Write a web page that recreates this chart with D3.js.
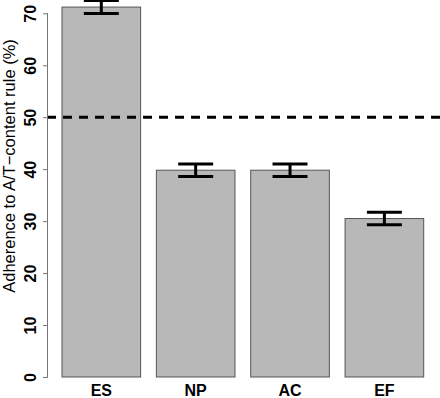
<!DOCTYPE html>
<html lang="en">
<head>
    <meta charset="UTF-8">
    <title>Adherence to A/T-content rule</title>
    <script src="https://d3js.org/d3.v7.min.js"></script>
    <style>
        body { margin: 0; background: white; }
        svg { display: block; font-family: "Liberation Sans", Arial, sans-serif; }
        .tick-label { font-size: 16px; font-weight: bold; fill: #000; }
        .cat-label { font-size: 16px; font-weight: bold; fill: #000; }
        .axis-title { font-size: 16.5px; fill: #000; }
    </style>
</head>
<body>
    <svg width="440" height="398"></svg>
    <script>
        const categories = ["ES", "NP", "AC", "EF"];
        const adherence = [71.2, 39.8, 39.8, 30.5];
        const errors = [1.25, 1.2, 1.2, 1.2];
        const yTicks = [0, 10, 20, 30, 40, 50, 60, 70];
        const threshold = 50;

        const width = 440, height = 398;
        const svg = d3.select("svg");

        const x = d3.scaleBand()
            .domain(categories)
            .range([62, 423.7])
            .paddingInner(0.2 / 1.2)
            .paddingOuter(0);

        const y = d3.scaleLinear()
            .domain([0, 70])
            .range([377, 13.3]);

        const data = categories.map((c, i) => ({ name: c, value: adherence[i], err: errors[i] }));

        // bars
        svg.selectAll(".bar")
            .data(data)
            .enter().append("rect")
            .attr("class", "bar")
            .attr("x", d => x(d.name))
            .attr("y", d => y(d.value))
            .attr("width", x.bandwidth())
            .attr("height", d => y(0) - y(d.value))
            .attr("fill", "#b8b8b8")
            .attr("stroke", "#555")
            .attr("stroke-width", 1);

        // error bars
        const capHalf = 17.5;
        const eb = svg.selectAll(".err")
            .data(data)
            .enter().append("g")
            .attr("class", "err")
            .attr("stroke", "#000")
            .attr("stroke-width", 3);
        eb.append("line")
            .attr("x1", d => x(d.name) + x.bandwidth() / 2)
            .attr("x2", d => x(d.name) + x.bandwidth() / 2)
            .attr("y1", d => y(d.value + d.err))
            .attr("y2", d => y(d.value - d.err));
        eb.append("line")
            .attr("x1", d => x(d.name) + x.bandwidth() / 2 - capHalf)
            .attr("x2", d => x(d.name) + x.bandwidth() / 2 + capHalf)
            .attr("y1", d => y(d.value + d.err))
            .attr("y2", d => y(d.value + d.err));
        eb.append("line")
            .attr("x1", d => x(d.name) + x.bandwidth() / 2 - capHalf)
            .attr("x2", d => x(d.name) + x.bandwidth() / 2 + capHalf)
            .attr("y1", d => y(d.value - d.err))
            .attr("y2", d => y(d.value - d.err));

        // dashed threshold line
        svg.append("line")
            .attr("x1", 47)
            .attr("x2", width)
            .attr("y1", y(threshold))
            .attr("y2", y(threshold))
            .attr("stroke", "#000")
            .attr("stroke-width", 3)
            .attr("stroke-dasharray", "9,7");

        // y axis
        const yAxis = d3.axisLeft(y)
            .tickValues(yTicks)
            .tickSize(5)
            .tickFormat(d3.format("d"));

        const gy = svg.append("g")
            .attr("transform", "translate(48,0)")
            .call(yAxis);
        gy.select(".domain").attr("stroke", "#777").attr("d", `M-0.5,${y(0)}V${y(70)}`);
        gy.selectAll(".tick line").attr("stroke", "#777");
        gy.selectAll(".tick text")
            .attr("class", "tick-label")
            .attr("x", null)
            .attr("dy", null)
            .attr("text-anchor", "middle")
            .attr("transform", "translate(-12,0) rotate(-90)")
            .attr("y", 0);

        // category labels
        svg.selectAll(".cat-label")
            .data(categories)
            .enter().append("text")
            .attr("class", "cat-label")
            .attr("x", d => x(d) + x.bandwidth() / 2)
            .attr("y", 396)
            .attr("text-anchor", "middle")
            .text(d => d);

        // axis title
        svg.append("text")
            .attr("class", "axis-title")
            .attr("transform", "translate(15,166) rotate(-90)")
            .attr("text-anchor", "middle")
            .text("Adherence to A/T\u2212content rule (%)");
    </script>
</body>
</html>
